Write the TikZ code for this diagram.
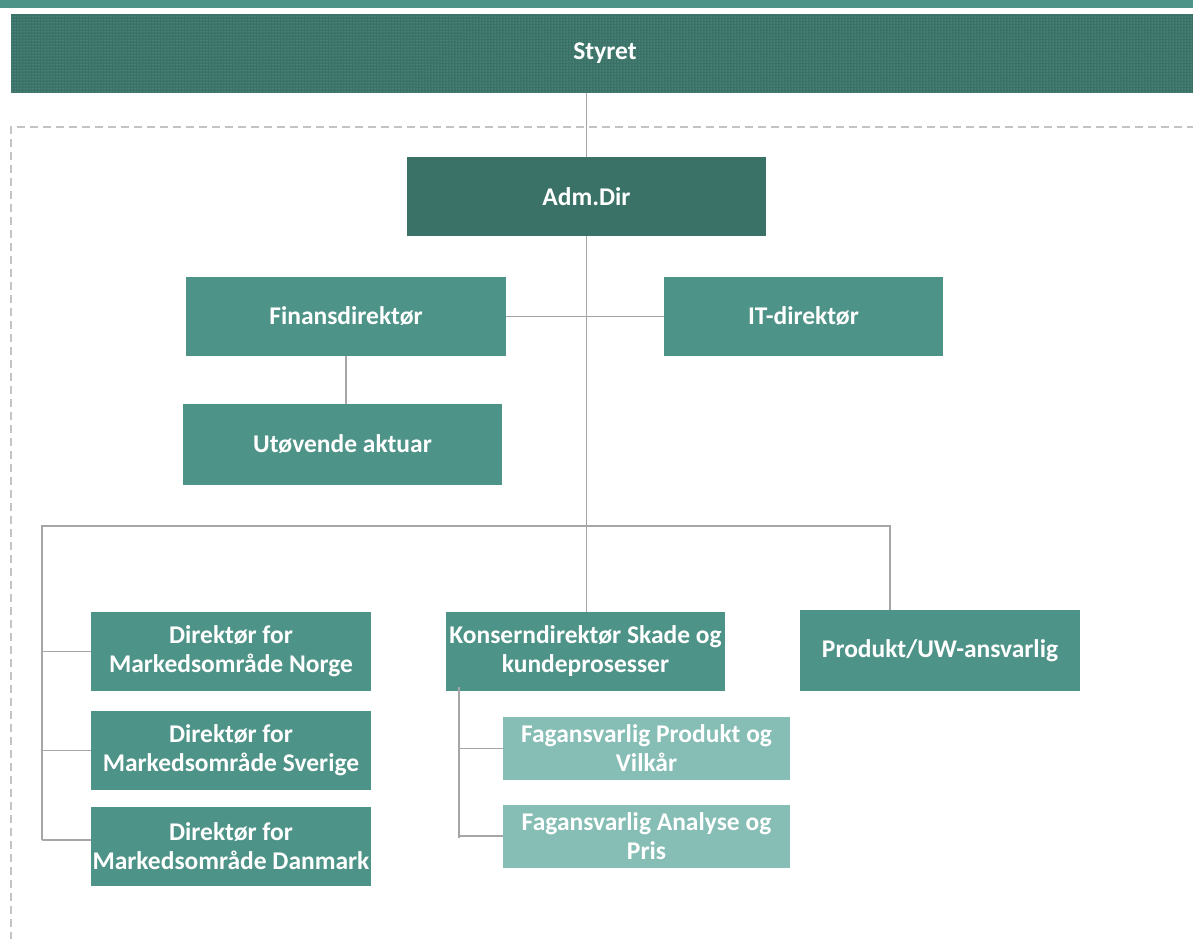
\documentclass[tikz,border=0pt]{standalone}
\usepackage{fontspec}
\setmainfont{Carlito}
\usepackage{tikz}
\usetikzlibrary{positioning, patterns}

\definecolor{teal1}{HTML}{4E9387}
\definecolor{teal2}{HTML}{3B7268}
\definecolor{teal3}{HTML}{86BEB5}
\definecolor{styretdot}{HTML}{7FB3AA}
\definecolor{linegray}{HTML}{A6A6A6}
\definecolor{dashgray}{HTML}{C4C4C4}

\begin{document}
\begin{tikzpicture}[
    x=1pt, y=-1pt,
    box/.style={rectangle, fill=teal1, text=white, align=center, inner sep=0pt,
        font=\fontsize{25.5}{29}\selectfont\bfseries},
    topbox/.style={box, fill=teal2},
    subbox/.style={box, fill=teal3},
    boardbox/.style={box, preaction={fill=teal2}, pattern=dots, pattern color=styretdot},
    line/.style={draw=linegray, line width=1.8pt}
]
    \useasboundingbox (0,0) rectangle (1193,938);

    % Frame
    \fill[teal1] (0,0) rectangle (1193,8);
    \draw[dashgray, line width=1.6pt, dash pattern=on 8pt off 5pt] (11,940) -- (11,127) -- (1200,127);

    % Nodes
    \node[boardbox, minimum width=1190, minimum height=79, anchor=north west] (styret) at (11,14) {};
    \node[font=\fontsize{25.5}{29}\selectfont\bfseries, text=white] at (605,53.5) {Styret};
    \node[topbox, minimum width=359, minimum height=79] (admdir) at (586.5,196.5) {Adm.Dir};
    \node[box, minimum width=320, minimum height=79] (finans) at (346,316.5) {Finansdirektør};
    \node[box, minimum width=279, minimum height=79] (it) at (803.5,316.5) {IT-direktør};
    \node[box, minimum width=319, minimum height=81] (aktuar) at (342.5,444.5) {Utøvende aktuar};
    \node[box, minimum width=280, minimum height=79] (norge) at (231,651.5) {Direktør for\\Markedsområde Norge};
    \node[box, minimum width=280, minimum height=79] (sverige) at (231,750.5) {Direktør for\\Markedsområde Sverige};
    \node[box, minimum width=280, minimum height=79] (danmark) at (231,846.5) {Direktør for\\Markedsområde Danmark};
    \node[box, minimum width=279, minimum height=79] (konsern) at (585.5,651.5) {Konserndirektør Skade og\\kundeprosesser};
    \node[box, minimum width=280, minimum height=81] (produkt) at (940,650.5) {Produkt/UW-ansvarlig};
    \node[subbox, minimum width=287, minimum height=63] (fagprodukt) at (646.5,748.5) {Fagansvarlig Produkt og\\Vilkår};
    \node[subbox, minimum width=287, minimum height=63] (faganalyse) at (646.5,836.5) {Fagansvarlig Analyse og\\Pris};

    \coordinate (busL) at (42,526);
    \coordinate (busR) at (890,526);
    \coordinate (subtop) at (459,687);

    % Lines
    \draw[line] (admdir.north |- styret.south) -- (admdir.north);
    \draw[line] (admdir.south) -- (admdir.south |- konsern.north);
    \draw[line] (finans.east) -- (it.west);
    \draw[line] (finans.south) -- (finans.south |- aktuar.north);
    \draw[line] (busL |- 0,840) -- (busL) -- (busR) -- (busR |- produkt.north);
    \draw[line] (norge.west -| busL) -- (norge.west);
    \draw[line] (sverige.west -| busL) -- (sverige.west);
    \draw[line] (busL |- 0,840) -- (danmark.west |- 0,840);
    \draw[line] (subtop) -- (subtop |- 0,838);
    \draw[line] (subtop |- fagprodukt.west) -- (fagprodukt.west);
    \draw[line] (subtop |- 0,836) -- (faganalyse.west |- 0,836);
\end{tikzpicture}
\end{document}
